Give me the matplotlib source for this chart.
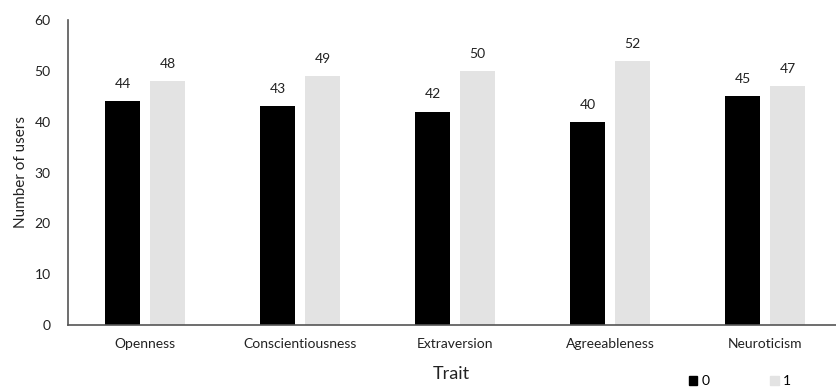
import numpy as np
import matplotlib.pyplot as plt
from matplotlib.patches import Patch

traits = ['Openness', 'Conscientiousness', 'Extraversion', 'Agreeableness', 'Neuroticism']
group0 = [44, 43, 42, 40, 45]
group1 = [48, 49, 50, 52, 47]

plt.rcParams['font.family'] = ['Lato', 'DejaVu Sans']

fig = plt.figure(figsize=(8.36, 3.87), dpi=100)
# axis runs slightly past the right edge of the figure
ax = fig.add_axes([67.5 / 836, 62 / 387, 775 / 836, 305 / 387])

x = np.arange(len(traits))
w = 0.22
off = 0.145
b0 = ax.bar(x - off, group0, w, color='black', label='0')
b1 = ax.bar(x + off, group1, w, color='#e3e3e3', label='1')

for bars in (b0, b1):
    for b in bars:
        ax.annotate(str(int(b.get_height())), (b.get_x() + b.get_width() / 2, b.get_height()),
                    xytext=(0, 8), textcoords='offset points', ha='center', va='bottom',
                    fontsize=10, color='#222222')

ax.set_xlim(-0.5, 4.5)
ax.set_ylim(0, 60)
ax.set_yticks(range(0, 61, 10))
ax.set_xticks(x)
ax.set_xticklabels(traits)
ax.tick_params(length=0, labelsize=10, colors='#222222', pad=9)
ax.tick_params(axis='y', pad=12)
for s in ('top', 'right'):
    ax.spines[s].set_visible(False)
for s in ('left', 'bottom'):
    ax.spines[s].set_color('#555555')
    ax.spines[s].set_linewidth(1.2)

ax.set_ylabel('Number of users', fontsize=11, color='#222222', labelpad=5)
fig.text(451 / 836, 1 - 374 / 387, 'Trait', ha='center', va='center', fontsize=13, color='#222222')

handles = [Patch(color='black', label='0'), Patch(color='#e3e3e3', label='1')]
fig.legend(handles=handles, loc='center', bbox_to_anchor=(740 / 836, 1 - 381 / 387), ncol=2,
           frameon=False, fontsize=10, handlelength=0.6, handleheight=0.6, handletextpad=0.3,
           columnspacing=4.4)

fig.savefig('out.png', dpi=100)
